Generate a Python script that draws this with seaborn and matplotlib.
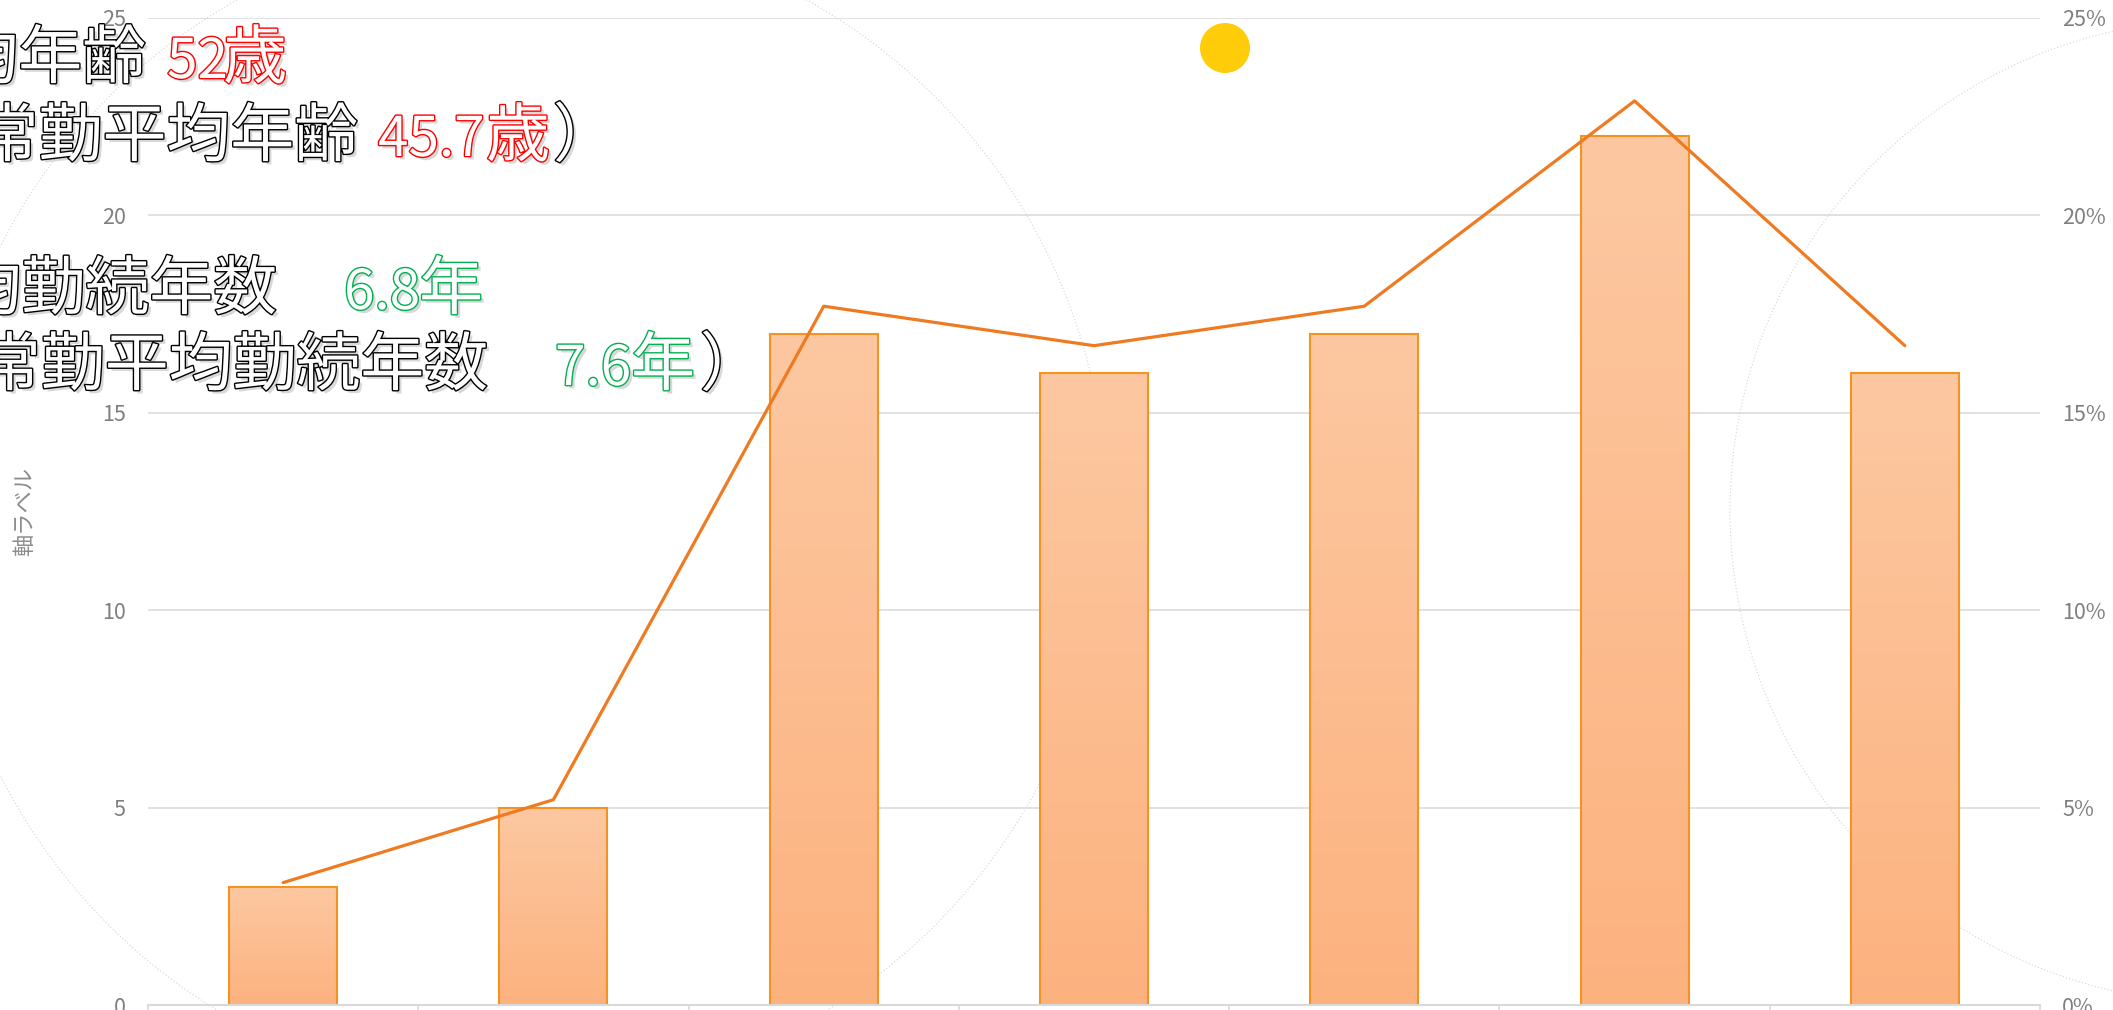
import numpy as np
import pandas as pd
import matplotlib
matplotlib.use("Agg")
import matplotlib.pyplot as plt
import matplotlib.patheffects as pe
from matplotlib.patches import Circle
from matplotlib.ticker import PercentFormatter
from matplotlib.colors import LinearSegmentedColormap
import seaborn as sns

# --- data ---
categories = ['区分1', '区分2', '区分3', '区分4', '区分5', '区分6', '区分7']
headcount = [3, 5, 17, 16, 17, 22, 16]                 # bars, left axis
share_pct = [3.1, 5.2, 17.7, 16.7, 17.7, 22.9, 16.7]   # line, right axis (%)
left_ticks = [0, 5, 10, 15, 20, 25]
right_ticks = [0, 5, 10, 15, 20, 25]

df = pd.DataFrame({'cat': categories, 'pos': range(len(categories)),
                   'count': headcount, 'share': share_pct})

sns.set_theme(style="white")
plt.rcParams['font.family'] = ['Noto Sans CJK JP', 'DejaVu Sans']

W, H = 2113, 1010
fig = plt.figure(figsize=(W / 100, H / 100), dpi=100)

# background decoration (faint circles + yellow dot), pixel coords
bg = fig.add_axes([0, 0, 1, 1], zorder=0)
bg.set_xlim(0, W)
bg.set_ylim(H, 0)
bg.axis('off')
for c, r in [((522, 511), 585), ((2222, 511), 492)]:
    bg.add_patch(Circle(c, r, fill=False, ec='#D4D4D4', lw=0.8, ls=(0, (1, 2))))
bg.add_patch(Circle((1225, 48), 25, color='#FFCC0A', lw=0))

# main axes
L, R, B, T = 148 / W, 2040 / W, (H - 1005) / H, (H - 18) / H
ax1 = fig.add_axes([L, B, R - L, T - B], zorder=1)
ax1.patch.set_visible(False)

sns.barplot(data=df, x='cat', y='count', ax=ax1, width=0.4,
            color='#FCBC8F', edgecolor='#F59322', linewidth=1.5)

# vertical gradient inside each bar
grad = np.linspace(0, 1, 256).reshape(-1, 1)
cmap = LinearSegmentedColormap.from_list('bar', ['#FCB27F', '#FDC8A1'])
for p in list(ax1.patches):
    x0, y0, w, h = p.get_x(), p.get_y(), p.get_width(), p.get_height()
    im = ax1.imshow(grad, cmap=cmap, extent=(x0, x0 + w, y0, y0 + h),
                    origin='lower', aspect='auto', zorder=p.get_zorder() - 0.1)
    im.set_clip_path(p)
    p.set_facecolor('none')

ax1.set_xlim(-0.5, len(categories) - 0.5)
ax1.set_ylim(0, 25)
ax1.set_yticks(left_ticks)
ax1.set_xlabel('')
ax1.set_ylabel('軸ラベル', fontsize=16, color='#8C8C8C')
ax1.yaxis.set_label_coords((25 - 148) / (2040 - 148), 0.5)
ax1.yaxis.label.set_va('center')
ax1.yaxis.grid(True, color='#D9D9D9', lw=1.1)
ax1.set_axisbelow(True)
for s in ['left', 'right', 'top']:
    ax1.spines[s].set_visible(False)
ax1.spines['bottom'].set_color('#D9D9D9')
ax1.spines['bottom'].set_linewidth(1.5)
ax1.set_xticks(np.arange(-0.5, len(categories), 1), minor=True)
ax1.tick_params(axis='x', which='major', length=0, labelbottom=False)
ax1.tick_params(axis='x', which='minor', bottom=True, length=8, width=1.2,
                color='#D9D9D9', direction='out')
ax1.tick_params(axis='y', length=0, pad=16, labelsize=15.5, labelcolor='#7F7F7F')

# line on secondary axis
ax2 = ax1.twinx()
ax2.set_zorder(2)
ax2.patch.set_visible(False)
sns.lineplot(data=df, x='pos', y='share', ax=ax2, color='#EE7B22', lw=2.3)
ax2.set_ylim(0, 25)
ax2.set_yticks(right_ticks)
ax2.yaxis.set_major_formatter(PercentFormatter(xmax=100, decimals=0))
ax2.set_ylabel('')
ax2.grid(False)
for s in ax2.spines.values():
    s.set_visible(False)
ax2.tick_params(axis='y', length=0, pad=16, labelsize=15.5, labelcolor='#7F7F7F')


def outlined(xpx, ypx, s, color, ha, size=46):
    fig.text(xpx / W, 1 - ypx / H, s, color='white', fontsize=size,
             ha=ha, va='baseline', zorder=5,
             path_effects=[pe.SimplePatchShadow(offset=(2.5, -2.5), shadow_rgbFace='#808080', alpha=0.3),
                           pe.Stroke(linewidth=2.0, foreground=color), pe.Normal()])


red, green, num = '#FF0000', '#00B050', 39.5
outlined(146, 78, '平均年齢', 'black', 'right')
outlined(167, 78, '52', red, 'left', num)
outlined(287, 78, '歳', red, 'right')
outlined(358, 156, '（常勤平均年齢', 'black', 'right')
outlined(378, 156, '45.7', red, 'left', num)
outlined(550, 156, '歳', red, 'right')
outlined(553, 156, '）', 'black', 'left')
outlined(277, 309, '平均勤続年数', 'black', 'right')
outlined(344, 309, '6.8', green, 'left', num)
outlined(483, 309, '年', green, 'right')
outlined(488, 385, '（常勤平均勤続年数', 'black', 'right')
outlined(555, 385, '7.6', green, 'left', num)
outlined(695, 385, '年', green, 'right')
outlined(700, 385, '）', 'black', 'left')

fig.savefig('out.png', dpi=100)
